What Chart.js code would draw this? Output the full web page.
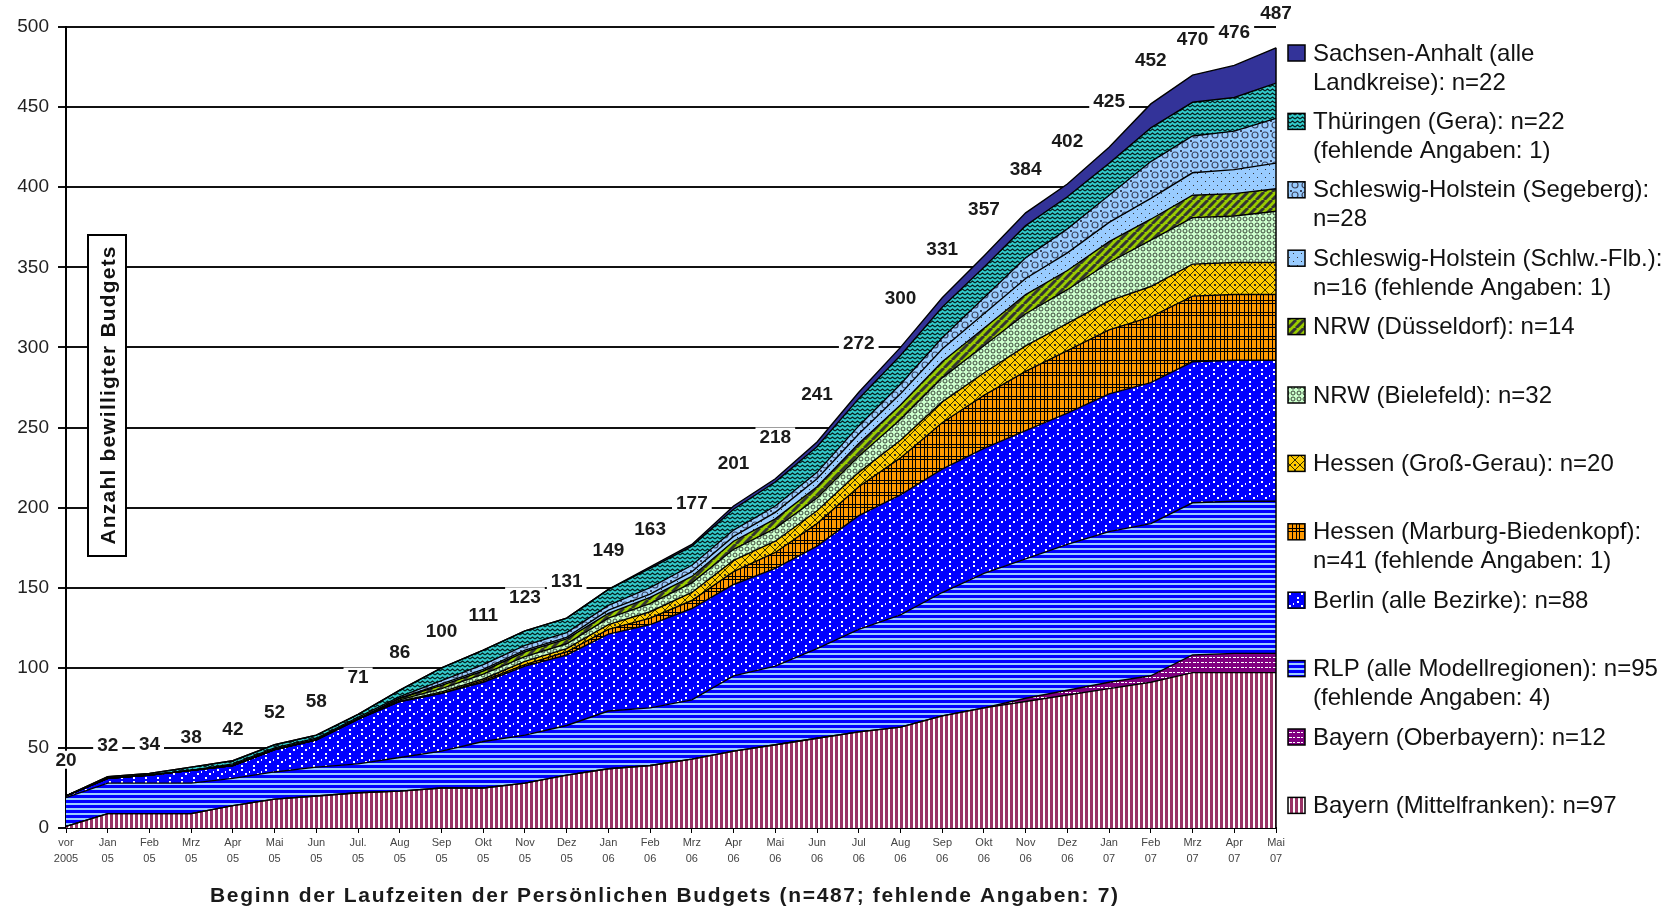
<!DOCTYPE html>
<html><head><meta charset="utf-8">
<script src="https://cdn.jsdelivr.net/npm/chart.js@4.4.1/dist/chart.umd.min.js"></script>
<style>html,body{margin:0;padding:0;background:#fff;overflow:hidden}#wrap{width:1677px;height:908px;position:relative}</style>
</head><body><div id="wrap"><canvas id="c" width="1677" height="908"></canvas></div>
<script>
const FONT = "'Liberation Sans', Arial, Helvetica, sans-serif";

// ---- data ----
const categories = [["vor","2005"],["Jan","05"],["Feb","05"],["Mrz","05"],["Apr","05"],["Mai","05"],["Jun","05"],["Jul.","05"],["Aug","05"],["Sep","05"],["Okt","05"],["Nov","05"],["Dez","05"],["Jan","06"],["Feb","06"],["Mrz","06"],["Apr","06"],["Mai","06"],["Jun","06"],["Jul","06"],["Aug","06"],["Sep","06"],["Okt","06"],["Nov","06"],["Dez","06"],["Jan","07"],["Feb","07"],["Mrz","07"],["Apr","07"],["Mai","07"]];
const yTickValues = [0,50,100,150,200,250,300,350,400,450,500];

const mittelfranken = [1,9,9,9,14,18,20,22,23,25,25,28,33,37,39,43,48,52,56,60,63,70,75,79,83,87,91,97,97,97];
const oberbayern    = [0,0,0,0,0,0,0,0,0,0,0,0,0,0,0,0,0,0,0,0,0,0,0,2,3,4,4,11,12,12];
const rlp           = [18,19,19,19,17,17,18,18,21,23,29,30,31,36,36,37,47,49,56,64,70,77,84,87,91,94,95,95,95,95];
const berlin        = [1,3,5,8,8,14,17,28,35,36,37,43,44,48,52,57,57,61,64,71,75,77,78,80,82,86,88,88,88,88];
const marburg       = [0,0,0,0,0,0,0,0,0,0,1,1,2,3,4,5,8,10,14,18,23,29,33,37,39,40,41,41,41,41];
const grossGerau    = [0,0,0,0,0,0,0,0,0,1,1,2,2,3,4,5,7,7,8,9,11,13,14,16,17,18,19,20,20,20];
const bielefeld     = [0,0,0,0,0,0,0,0,1,2,3,3,3,4,5,6,7,8,8,10,13,15,17,20,21,24,29,29,29,32];
const duesseldorf   = [0,0,0,0,0,0,0,0,1,2,2,3,3,3,4,4,5,6,7,8,9,10,11,12,12,13,13,14,14,14];
const schlwFlb      = [0,0,0,0,0,0,0,0,0,1,1,1,1,2,2,3,3,4,5,6,7,8,9,10,11,12,13,14,15,16];
const segeberg      = [0,0,0,0,1,1,1,1,1,2,3,3,3,3,4,4,4,4,4,5,6,7,10,13,15,17,23,23,24,28];
const thueringen    = [0,1,1,2,2,2,2,2,4,8,9,9,9,10,12,12,13,15,16,17,18,19,19,20,20,20,21,21,21,22];
const sachsenAnhalt = [0,0,0,0,0,0,0,0,0,0,0,0,0,0,1,1,2,2,3,4,5,6,7,8,8,10,15,17,20,22];

const legendMittelfranken = ["Bayern (Mittelfranken): n=97"];
const legendOberbayern    = ["Bayern (Oberbayern): n=12"];
const legendRlp           = ["RLP (alle Modellregionen): n=95", "(fehlende Angaben: 4)"];
const legendBerlin        = ["Berlin (alle Bezirke): n=88"];
const legendMarburg       = ["Hessen (Marburg-Biedenkopf):", "n=41 (fehlende Angaben: 1)"];
const legendGrossGerau    = ["Hessen (Groß-Gerau): n=20"];
const legendBielefeld     = ["NRW (Bielefeld): n=32"];
const legendDuesseldorf   = ["NRW (Düsseldorf): n=14"];
const legendSchlw         = ["Schleswig-Holstein (Schlw.-Flb.):", "n=16 (fehlende Angaben: 1)"];
const legendSegeberg      = ["Schleswig-Holstein (Segeberg):", "n=28"];
const legendThueringen    = ["Thüringen (Gera): n=22", "(fehlende Angaben: 1)"];
const legendSachsen       = ["Sachsen-Anhalt (alle", "Landkreise): n=22"];

const yTitle = "Anzahl bewilligter Budgets";
const xTitle = "Beginn der Laufzeiten der Persönlichen Budgets (n=487; fehlende Angaben: 7)";

// ---- patterns ----
const canvas = document.getElementById('c');
const ctx = canvas.getContext('2d');
function mk(w, h, draw) {
  const c = document.createElement('canvas'); c.width = w; c.height = h;
  const g = c.getContext('2d'); draw(g, w, h);
  return ctx.createPattern(c, 'repeat');
}
const pMittel = mk(5, 4, (g,w,h)=>{ g.fillStyle='#993366'; g.fillRect(0,0,w,h); g.fillStyle='#fff'; g.fillRect(3,0,2,h); });
const pOber = mk(8, 5, (g,w,h)=>{ g.fillStyle='#800080'; g.fillRect(0,0,w,h); g.fillStyle='#fff'; g.fillRect(1,2,3,1); g.fillRect(5,2,2,1); });
const pRlp = mk(5, 5, (g,w,h)=>{ g.fillStyle='#99CCFF'; g.fillRect(0,0,w,h); g.fillStyle='#0000FF'; g.fillRect(0,0,w,3); });
const pBerlin = mk(12, 12, (g,w,h)=>{ g.fillStyle='#0000FF'; g.fillRect(0,0,w,h); g.fillStyle='#fff';
  g.fillRect(1,1,2,2); g.fillRect(5,5,2,2); g.fillRect(1,9,2,2); g.fillRect(9,3,1,2); });
const pMarburg = mk(12, 12, (g,w,h)=>{ g.fillStyle='#FF9900'; g.fillRect(0,0,w,h); g.fillStyle='#000'; g.fillRect(0,0,1,h); g.fillRect(3,0,1,h); g.fillRect(0,0,w,1); g.fillRect(0,3,w,1); g.fillRect(8,0,1,h); });
const pGG = mk(10, 10, (g,w,h)=>{ g.fillStyle='#FFCC00'; g.fillRect(0,0,w,h); g.strokeStyle='#3a3000'; g.lineWidth=1; g.beginPath(); g.moveTo(5,0); g.lineTo(10,5); g.lineTo(5,10); g.lineTo(0,5); g.closePath(); g.stroke(); g.fillStyle='#333'; g.fillRect(4,4,2,2); });
const pBiel = mk(6, 6, (g,w,h)=>{ g.fillStyle='#CCFFCC'; g.fillRect(0,0,w,h); g.strokeStyle='#3a463a'; g.lineWidth=1; g.beginPath(); g.arc(3,3,2,0,Math.PI*2); g.stroke(); });
const pDuss = mk(8, 8, (g,w,h)=>{ g.fillStyle='#99CC00'; g.fillRect(0,0,w,h); g.strokeStyle='#333'; g.lineWidth=3; g.beginPath(); for (let k=-8;k<=16;k+=8){ g.moveTo(k,h); g.lineTo(k+8,0);} g.stroke(); });
const pSchlw = mk(8, 8, (g,w,h)=>{ g.fillStyle='#99CCFF'; g.fillRect(0,0,w,h); g.fillStyle='#333'; g.fillRect(1,1,1,1); g.fillRect(5,5,1,1); });
const pSeg = mk(10, 10, (g,w,h)=>{ g.fillStyle='#99CCFF'; g.fillRect(0,0,w,h); g.strokeStyle='#3d4660'; g.lineWidth=1.2; g.beginPath(); g.arc(5,5,3,0,Math.PI*2); g.stroke(); g.fillStyle='#3d4660'; g.fillRect(0,0,2,2); });
const pThu = mk(5, 4, (g,w,h)=>{ g.fillStyle='#33CCCC'; g.fillRect(0,0,w,h); g.strokeStyle='#062020'; g.lineWidth=1.2; g.beginPath(); g.moveTo(0,3); g.lineTo(2.5,1); g.lineTo(5,3); g.stroke(); });
const cSA = '#333399';

const layers = [
  {data: mittelfranken, fill: pMittel, legend: legendMittelfranken},
  {data: oberbayern, fill: pOber, legend: legendOberbayern},
  {data: rlp, fill: pRlp, legend: legendRlp},
  {data: berlin, fill: pBerlin, legend: legendBerlin},
  {data: marburg, fill: pMarburg, legend: legendMarburg},
  {data: grossGerau, fill: pGG, legend: legendGrossGerau},
  {data: bielefeld, fill: pBiel, legend: legendBielefeld},
  {data: duesseldorf, fill: pDuss, legend: legendDuesseldorf},
  {data: schlwFlb, fill: pSchlw, legend: legendSchlw},
  {data: segeberg, fill: pSeg, legend: legendSegeberg},
  {data: thueringen, fill: pThu, legend: legendThueringen},
  {data: sachsenAnhalt, fill: cSA, legend: legendSachsen}
];

const datasets = layers.map((l, i) => ({
  label: l.legend.join(' '),
  data: l.data,
  backgroundColor: l.fill,
  borderColor: '#000',
  borderWidth: 1.4,
  fill: i === 0 ? 'origin' : '-1',
  pointRadius: 0,
  tension: 0,
  _legendLines: l.legend
}));

function fitSpacing(g, text, font, target) {
  g.font = font;
  g.letterSpacing = '0px';
  const w = g.measureText(text).width;
  return Math.max(0, (target - w) / (text.length - 1));
}

const decor = {
  id: 'decor',
  afterDatasetsDraw(chart) {
    const g = chart.ctx, a = chart.chartArea, ys = chart.scales.y;
    const n = categories.length - 1;
    let tot = 0; chart.data.datasets.forEach(d => tot += d.data[n]);
    g.save(); g.strokeStyle = '#000'; g.lineWidth = 1.5;
    g.beginPath(); g.moveTo(a.right, ys.getPixelForValue(tot)); g.lineTo(a.right, a.bottom); g.stroke();
    g.restore();
  },
  afterDraw(chart) {
    const g = chart.ctx, xs = chart.scales.x, ys = chart.scales.y;
    // totals labels
    const totals = categories.map((_, i) => chart.data.datasets.reduce((s, d) => s + d.data[i], 0));
    g.save();
    g.font = 'bold 19px ' + FONT;
    g.textAlign = 'center'; g.textBaseline = 'middle';
    totals.forEach((t, i) => {
      const x = xs.getPixelForValue(i), y = ys.getPixelForValue(t);
      const i0 = Math.max(0, i - 1), i1 = Math.min(totals.length - 1, i + 1);
      const s = Math.abs(ys.getPixelForValue(totals[i1]) - ys.getPixelForValue(totals[i0])) /
                Math.abs(xs.getPixelForValue(i1) - xs.getPixelForValue(i0));
      const cy = y - (27 + 20 * s);
      const txt = String(t), w = g.measureText(txt).width;
      g.fillStyle = '#fff'; g.fillRect(x - w / 2 - 4, cy - 9, w + 8, 18);
      g.fillStyle = '#1a1a1a'; g.fillText(txt, x, cy + 1);
    });
    g.restore();

    // y-axis title box
    g.save();
    g.fillStyle = '#fff'; g.fillRect(88, 235, 38, 321);
    g.strokeStyle = '#000'; g.lineWidth = 2; g.strokeRect(88, 235, 38, 321);
    const yf = 'bold 21px ' + FONT;
    const ysp = fitSpacing(g, yTitle, yf, 298);
    g.translate(108, 395.5); g.rotate(-Math.PI / 2);
    g.font = yf; g.letterSpacing = ysp + 'px';
    g.textAlign = 'center'; g.textBaseline = 'middle'; g.fillStyle = '#111';
    g.fillText(yTitle, ysp / 2, 1);
    g.restore();

    // x-axis title
    g.save();
    const xf = 'bold 21px ' + FONT;
    const xsp = fitSpacing(g, xTitle, xf, 908);
    g.font = xf; g.letterSpacing = xsp + 'px';
    g.textAlign = 'left'; g.textBaseline = 'middle'; g.fillStyle = '#1a1a1a';
    g.fillText(xTitle, 210, 896);
    g.restore();

    // legend (top = last dataset)
    g.save();
    g.font = '24px ' + FONT; g.textBaseline = 'middle'; g.textAlign = 'left';
    const ds = chart.data.datasets.slice().reverse();
    ds.forEach((d, k) => {
      const cy = 53 + k * 68.4;
      g.fillStyle = d.backgroundColor; g.fillRect(1288, cy - 8, 17, 16);
      g.strokeStyle = '#000'; g.lineWidth = 1.5; g.strokeRect(1288, cy - 8, 17, 16);
      g.fillStyle = '#111';
      d._legendLines.forEach((line, j) => g.fillText(line, 1313, cy + 1 + j * 29));
    });
    g.restore();
  }
};

new Chart(ctx, {
  type: 'line',
  data: { labels: categories, datasets },
  options: {
    responsive: false, animation: false, devicePixelRatio: 1,
    layout: { padding: { left: 0, right: 401, top: 27, bottom: 0 } },
    plugins: { legend: { display: false }, tooltip: { enabled: false }, filler: { drawTime: 'beforeDatasetsDraw' } },
    scales: {
      x: {
        offset: false,
        grid: { display: true, drawOnChartArea: false, drawTicks: true, tickLength: 5, color: '#000', lineWidth: 1 },
        border: { display: true, color: '#000', width: 2 },
        ticks: { autoSkip: false, maxRotation: 0, minRotation: 0, color: '#444', padding: 2, font: { family: FONT, size: 11, lineHeight: 1.45 } },
        afterFit(s) { s.height = 80; }
      },
      y: {
        stacked: true, min: 0, max: 500,
        afterBuildTicks(s) { s.ticks = yTickValues.map(v => ({ value: v })); },
        grid: { color: '#111', lineWidth: 2, drawTicks: true, tickLength: 8 },
        border: { display: true, color: '#000', width: 2 },
        ticks: { color: '#222', padding: 9, font: { family: FONT, size: 19 } },
        afterFit(s) { s.width = 66; }
      }
    }
  },
  plugins: [decor]
});
</script></body></html>
